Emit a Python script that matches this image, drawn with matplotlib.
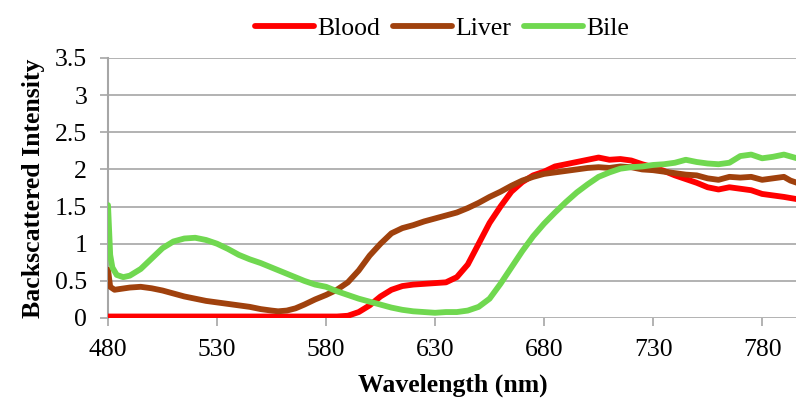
import matplotlib
matplotlib.use("Agg")
import matplotlib.pyplot as plt

plt.rcParams['font.family'] = ['Liberation Serif', 'DejaVu Serif']

# Blood spectrum
blood_wl = [480, 490, 520, 560, 585, 590, 595, 600, 605, 610, 615, 620,
            625, 630, 635, 640, 645, 650, 655, 660, 665, 670, 675, 680, 685, 690,
            695, 700, 705, 710, 715, 720, 725, 730, 735, 740, 745, 750, 755, 760,
            765, 770, 775, 780, 785, 790, 796]
blood_val = [0.02, 0.02, 0.02, 0.02, 0.02, 0.03, 0.08, 0.17, 0.29, 0.38,
             0.43, 0.45, 0.46, 0.47, 0.48, 0.55, 0.72, 1.0, 1.28, 1.5, 1.7, 1.83,
             1.92, 1.97, 2.04, 2.07, 2.1, 2.13, 2.16, 2.13, 2.14, 2.12, 2.07, 2.03,
             1.98, 1.92, 1.87, 1.82, 1.76, 1.73, 1.76, 1.74, 1.72, 1.67, 1.65, 1.63, 1.6]

# Liver spectrum
liver_wl = [480, 481, 483, 490, 495, 500, 505, 510, 515, 520, 525, 530, 535, 540,
            545, 550, 555, 558, 562, 566, 570, 575, 580, 585, 590, 595, 600, 605,
            610, 615, 620, 625, 630, 635, 640, 645, 650, 655, 660, 665, 670, 675,
            680, 685, 690, 695, 700, 705, 710, 715, 720, 725, 730, 735, 740, 745,
            750, 755, 760, 765, 770, 775, 780, 785, 790, 793, 796]
liver_val = [0.65, 0.42, 0.38, 0.41, 0.42, 0.40, 0.37, 0.33, 0.29, 0.26, 0.23, 0.21,
             0.19, 0.17, 0.15, 0.12, 0.1, 0.09, 0.1, 0.13, 0.18, 0.25, 0.31, 0.38,
             0.48, 0.64, 0.84, 1.0, 1.14, 1.21, 1.25, 1.3, 1.34, 1.38, 1.42, 1.48,
             1.55, 1.63, 1.7, 1.78, 1.85, 1.9, 1.94, 1.96, 1.98, 2.0, 2.02, 2.03,
             2.02, 2.04, 2.03, 2.0, 1.99, 1.97, 1.95, 1.93, 1.92, 1.88, 1.86, 1.9,
             1.89, 1.9, 1.86, 1.88, 1.9, 1.85, 1.82]

# Bile spectrum
bile_wl = [480, 481, 482, 484, 487, 490, 495, 500, 505, 510, 515, 520, 525, 530,
           535, 540, 545, 550, 555, 560, 565, 570, 575, 580, 585, 590, 595, 600,
           605, 610, 615, 620, 625, 630, 635, 640, 645, 650, 655, 660, 665, 670,
           675, 680, 685, 690, 695, 700, 705, 710, 715, 720, 725, 730, 735, 740,
           745, 750, 755, 760, 765, 770, 775, 780, 785, 790, 796]
bile_val = [1.52, 0.85, 0.68, 0.58, 0.55, 0.57, 0.66, 0.8, 0.94, 1.03, 1.07, 1.08,
            1.05, 1.0, 0.93, 0.85, 0.79, 0.74, 0.68, 0.62, 0.56, 0.5, 0.45, 0.42,
            0.36, 0.31, 0.26, 0.22, 0.18, 0.14, 0.11, 0.09, 0.08, 0.07, 0.08, 0.08,
            0.1, 0.15, 0.26, 0.46, 0.68, 0.9, 1.1, 1.27, 1.42, 1.56, 1.69, 1.8, 1.9,
            1.96, 2.01, 2.03, 2.04, 2.06, 2.07, 2.09, 2.13, 2.1, 2.08, 2.07, 2.09,
            2.18, 2.2, 2.15, 2.17, 2.2, 2.15]

x_ticks = [480, 530, 580, 630, 680, 730, 780]
y_ticks = [0, 0.5, 1, 1.5, 2, 2.5, 3, 3.5]
y_tick_labels = ['0', '0.5', '1', '1.5', '2', '2.5', '3', '3.5']

fig = plt.figure(figsize=(7.96, 3.98), dpi=100)
ax = fig.add_axes([108 / 796, 80 / 398, 689 / 796, 260 / 398])

lw = 4.2
for wl, val, color, name in [(blood_wl, blood_val, '#FF0000', 'Blood'),
                             (liver_wl, liver_val, '#A0410D', 'Liver'),
                             (bile_wl, bile_val, '#70D850', 'Bile')]:
    ax.plot(wl, val, color=color, lw=lw, label=name, zorder=3,
            solid_capstyle='round', solid_joinstyle='round')

ax.set_xlim(480, 796)
ax.set_ylim(0, 3.5)
ax.set_xticks(x_ticks)
ax.set_yticks(y_ticks)
ax.set_yticklabels(y_tick_labels)

ax.grid(axis='y', color='#A6A6A6', lw=1.2)
ax.set_axisbelow(True)
for side in ('top', 'right', 'bottom'):
    ax.spines[side].set_visible(False)
ax.spines['left'].set_color('#A6A6A6')
ax.spines['left'].set_linewidth(1.5)

ax.tick_params(axis='both', direction='out', colors='#A6A6A6', labelcolor='black',
               labelsize=18.5, width=1.2)
ax.tick_params(axis='y', length=6, pad=9)
ax.tick_params(axis='x', length=6, pad=9)

ax.set_xlabel('Wavelength (nm)', fontsize=18.5, fontweight='bold', labelpad=9)
ax.set_ylabel('Backscattered Intensity', fontsize=18.5, fontweight='bold', labelpad=7)

fig.legend(loc='upper center', bbox_to_anchor=(0.555, 1.015), ncol=3, frameon=False,
           fontsize=18.5, handlelength=2.3, handletextpad=0.12, columnspacing=0.5)

fig.savefig('out.png', dpi=100)
